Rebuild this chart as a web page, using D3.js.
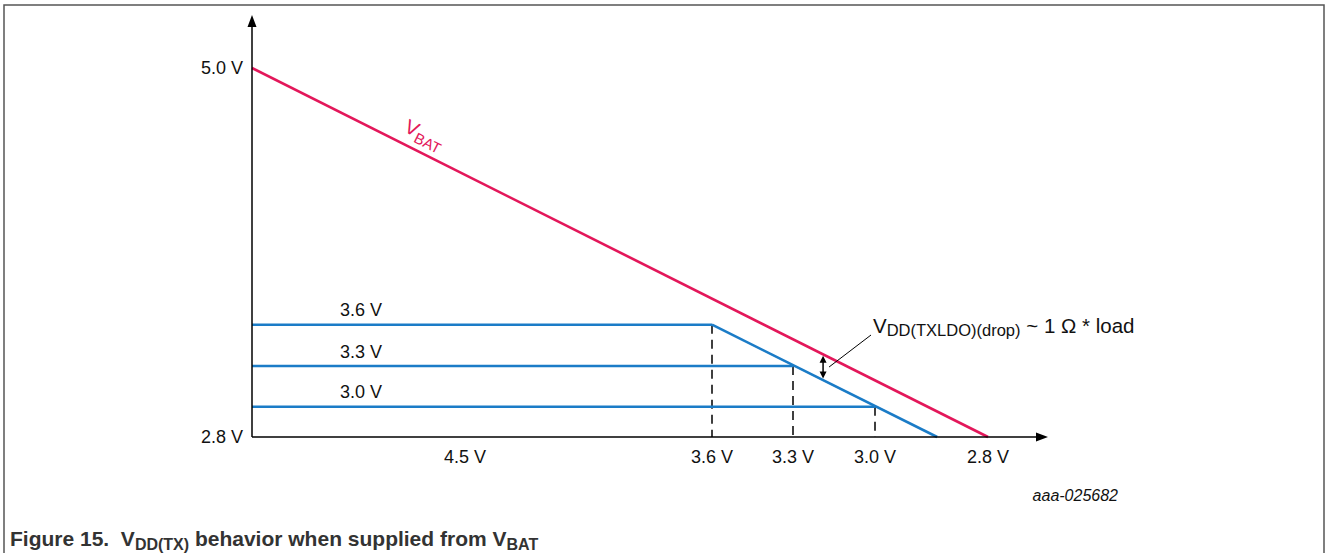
<!DOCTYPE html>
<html>
<head>
<meta charset="utf-8">
<script src="https://cdn.jsdelivr.net/npm/d3@7"></script>
<style>
  body { margin: 0; background: #fff; }
  svg { display: block; font-family: "Liberation Sans", Arial, sans-serif; }
  text { white-space: pre; }
</style>
</head>
<body>
<div id="chart"></div>
<script>
// VBAT values along the (schematic) x axis, VDD values along the y axis
const vbatTicks = [5.0, 4.5, 3.6, 3.3, 3.0, 2.8];
const vbatTickLabels = ["4.5 V", "3.6 V", "3.3 V", "3.0 V", "2.8 V"];
const vddTicks = [2.8, 3.0, 3.3, 3.6, 5.0];
const vddTickLabels = ["5.0 V", "2.8 V"];
// regulated LDO output levels
const ldoLevels = [3.6, 3.3, 3.0];
// battery voltage line and the dropout line (VDD follows VBAT minus drop)
const vbatLine = [[5.0, 5.0], [2.8, 2.8]];
const dropoutLine = [[3.6, 3.6], [2.89, 2.8]];
const dropMarkerVbat = 3.19;

const width = 1327, height = 553;
const red = "#e3175a", blue = "#1b7cc7";

const svg = d3.select("#chart").append("svg")
  .attr("width", width)
  .attr("height", height);

// frame
svg.append("rect")
  .attr("x", 4).attr("y", 5)
  .attr("width", 1320).attr("height", 600)
  .attr("fill", "none")
  .attr("stroke", "#555")
  .attr("stroke-width", 1.5);

// schematic (piecewise) scales
const x = d3.scaleLinear()
  .domain(vbatTicks)
  .range([252, 465, 712, 793, 875, 988]);
const y = d3.scaleLinear()
  .domain(vddTicks)
  .range([437, 406.7, 366, 324.7, 68]);

const x0 = x(5.0), yBase = y(2.8);
const line = d3.line().x(d => x(d[0])).y(d => y(d[1]));

// dashed drop lines from each knee down to the x axis
svg.selectAll(".knee")
  .data(ldoLevels)
  .enter()
  .append("line")
  .attr("class", "knee")
  .attr("x1", d => x(d)).attr("x2", d => x(d))
  .attr("y1", d => y(d)).attr("y2", yBase)
  .attr("stroke", "#000")
  .attr("stroke-width", 1.5)
  .attr("stroke-dasharray", "9,6");

// regulated levels
svg.selectAll(".level")
  .data(ldoLevels)
  .enter()
  .append("path")
  .attr("class", "level")
  .attr("d", d => line([[5.0, d], [d, d]]))
  .attr("fill", "none")
  .attr("stroke", blue)
  .attr("stroke-width", 2.6);

svg.append("path")
  .attr("d", line(dropoutLine))
  .attr("fill", "none")
  .attr("stroke", blue)
  .attr("stroke-width", 2.6);

// level labels
svg.selectAll(".level-label")
  .data(ldoLevels)
  .enter()
  .append("text")
  .attr("class", "level-label")
  .attr("x", 361)
  .attr("y", d => y(d) - 8.5)
  .attr("text-anchor", "middle")
  .style("font-size", "18px")
  .style("fill", "#111")
  .text(d => d.toFixed(1) + " V");

// VBAT line
svg.append("path")
  .attr("d", line(vbatLine))
  .attr("fill", "none")
  .attr("stroke", red)
  .attr("stroke-width", 2.6);

const angle = Math.atan2(y(2.8) - y(5.0), x(2.8) - x(5.0)) * 180 / Math.PI;
const vbatLabel = svg.append("text")
  .attr("transform", `translate(403,131) rotate(${angle})`)
  .style("font-size", "20px")
  .style("fill", red);
vbatLabel.append("tspan").text("V");
vbatLabel.append("tspan").attr("dy", 5).style("font-size", "15px").text("BAT");

// axes
svg.append("line")
  .attr("x1", x0).attr("x2", x0)
  .attr("y1", 24).attr("y2", yBase)
  .attr("stroke", "#000").attr("stroke-width", 1.5);
svg.append("path")
  .attr("d", `M${x0},15 L${x0 - 4.5},27 L${x0 + 4.5},27 Z`)
  .attr("fill", "#000");
svg.append("line")
  .attr("x1", x0).attr("x2", 1038)
  .attr("y1", yBase).attr("y2", yBase)
  .attr("stroke", "#000").attr("stroke-width", 1.5);
svg.append("path")
  .attr("d", `M1048,${yBase} L1036,${yBase - 4.5} L1036,${yBase + 4.5} Z`)
  .attr("fill", "#000");

// y tick labels
svg.selectAll(".ytick")
  .data([5.0, 2.8])
  .enter()
  .append("text")
  .attr("class", "ytick")
  .attr("x", x0 - 9)
  .attr("y", d => y(d))
  .attr("dy", "0.35em")
  .attr("text-anchor", "end")
  .style("font-size", "18px")
  .style("fill", "#111")
  .text((d, i) => vddTickLabels[i]);

// x tick labels
svg.selectAll(".xtick")
  .data(vbatTicks.slice(1))
  .enter()
  .append("text")
  .attr("class", "xtick")
  .attr("x", d => x(d))
  .attr("y", 463)
  .attr("text-anchor", "middle")
  .style("font-size", "18px")
  .style("fill", "#111")
  .text((d, i) => vbatTickLabels[i]);

// drop annotation: double arrow between VDD and VBAT
const ax = x(dropMarkerVbat);
const lerp = (pts, px) => {
  const p0 = [x(pts[0][0]), y(pts[0][1])], p1 = [x(pts[1][0]), y(pts[1][1])];
  return p0[1] + (px - p0[0]) * (p1[1] - p0[1]) / (p1[0] - p0[0]);
};
const yTop = lerp(vbatLine, ax) + 1.5, yBot = lerp(dropoutLine, ax) - 1.5;
svg.append("line")
  .attr("x1", ax).attr("x2", ax)
  .attr("y1", yTop + 5).attr("y2", yBot - 5)
  .attr("stroke", "#000").attr("stroke-width", 1.5);
svg.append("path")
  .attr("d", `M${ax},${yTop} L${ax - 3.5},${yTop + 7} L${ax + 3.5},${yTop + 7} Z
              M${ax},${yBot} L${ax - 3.5},${yBot - 7} L${ax + 3.5},${yBot - 7} Z`)
  .attr("fill", "#000");
svg.append("line")
  .attr("x1", ax + 6).attr("y1", 367)
  .attr("x2", 871).attr("y2", 335)
  .attr("stroke", "#000").attr("stroke-width", 1);

const dropLabel = svg.append("text")
  .attr("x", 873).attr("y", 333)
  .style("font-size", "20.5px")
  .style("fill", "#111");
dropLabel.append("tspan").text("V");
dropLabel.append("tspan").attr("dy", 3).style("font-size", "16.5px").text("DD(TXLDO)(drop)");
dropLabel.append("tspan").attr("dy", -3).text(" ~ 1 Ω * load");

// figure id
svg.append("text")
  .attr("x", 1118).attr("y", 501)
  .attr("text-anchor", "end")
  .style("font-size", "16px")
  .style("font-style", "italic")
  .style("fill", "#111")
  .text("aaa-025682");

// caption
const caption = svg.append("text")
  .attr("x", 10).attr("y", 546)
  .style("font-size", "21px")
  .style("font-weight", "bold")
  .style("fill", "#333");
caption.append("tspan").text("Figure 15.  V");
caption.append("tspan").attr("dy", 4).style("font-size", "16px").text("DD(TX)");
caption.append("tspan").attr("dy", -4).text(" behavior when supplied from V");
caption.append("tspan").attr("dy", 4).style("font-size", "16px").text("BAT");
</script>
</body>
</html>
